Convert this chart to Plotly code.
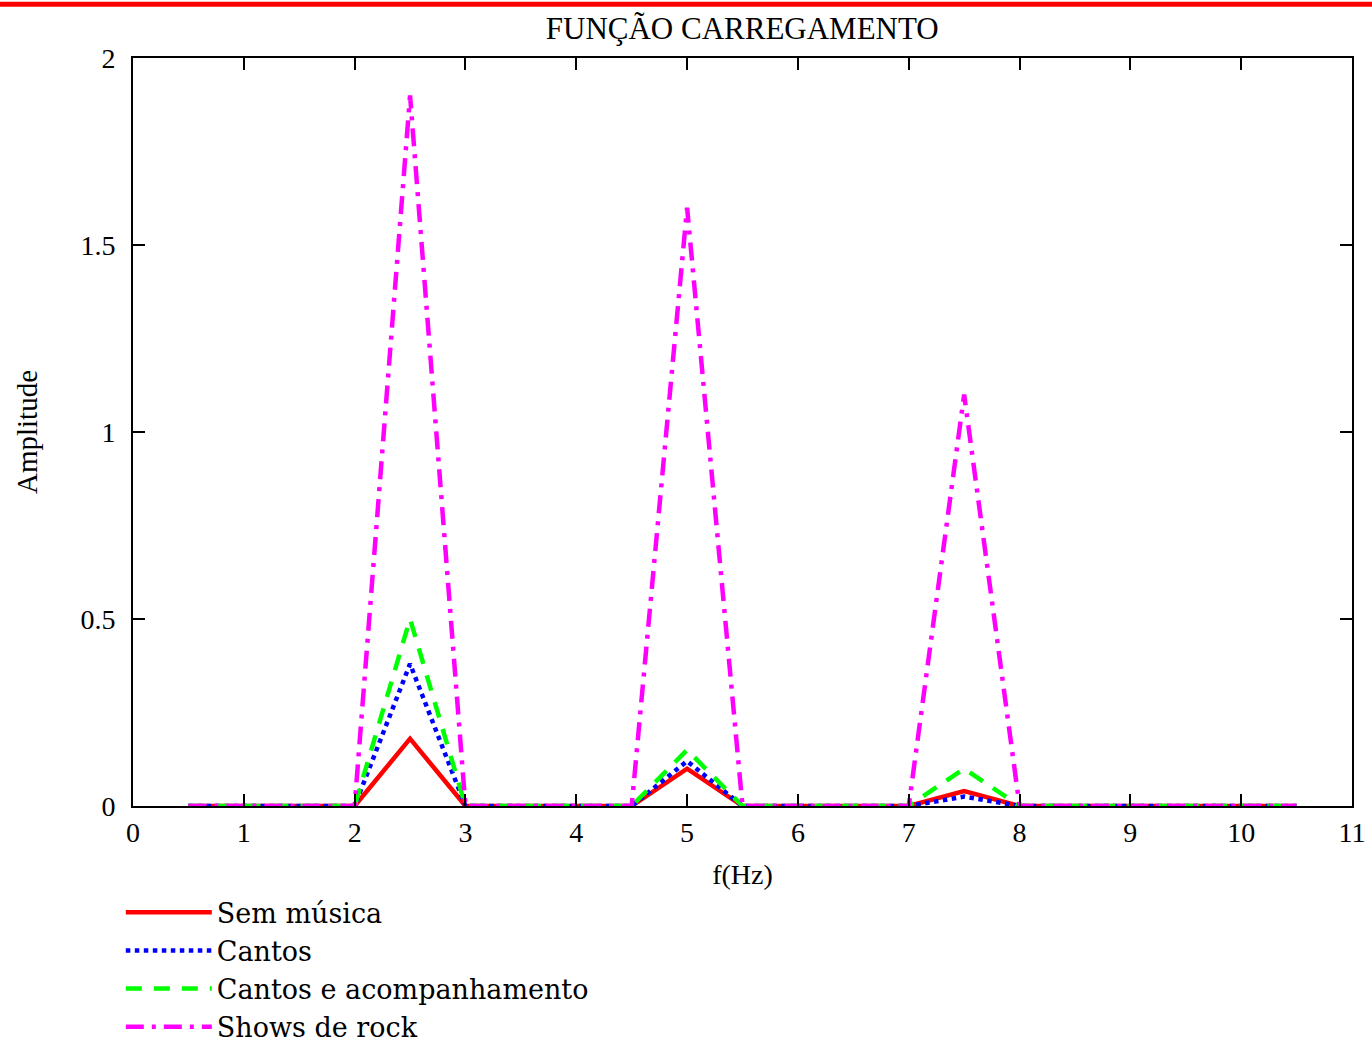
import plotly.graph_objects as go

# Frequency samples (Hz) shared by all load cases
freq = [0.5, 2.0, 2.5, 3.0, 4.5, 5.0, 5.5, 7.0, 7.5, 8.0, 10.5]

# Dynamic load amplitudes per activity type (harmonics at 2.5, 5 and 7.5 Hz)
sem_musica = [0, 0, 0.18, 0, 0, 0.10, 0, 0, 0.04, 0, 0]
cantos = [0, 0, 0.38, 0, 0, 0.12, 0, 0, 0.025, 0, 0]
cantos_acomp = [0, 0, 0.50, 0, 0, 0.15, 0, 0, 0.10, 0, 0]
shows_rock = [0, 0, 1.90, 0, 0, 1.60, 0, 0, 1.10, 0, 0]

x_ticks = list(range(0, 12))
y_ticks = [0, 0.5, 1, 1.5, 2]
y_tick_text = ["0", "0.5", "1", "1.5", "2"]

FONT = "Liberation Serif"
LEGEND_FONT = "DejaVu Serif"

series = [
    ("Sem música", sem_musica, "#ff0000", "solid"),
    ("Cantos", cantos, "#0000ff", "dot"),
    ("Cantos e acompanhamento", cantos_acomp, "#00ff00", "16px,12px"),
    ("Shows de rock", shows_rock, "#ff00ff", "18px,8px,4px,8px"),
]

fig = go.Figure()
for name, vals, color, dash in series:
    fig.add_trace(go.Scatter(
        x=freq, y=vals, name=name, mode="lines",
        line=dict(color=color, width=4.5, dash=dash),
    ))

axis_common = dict(
    showgrid=False, zeroline=False,
    showline=True, linecolor="black", linewidth=2, mirror="ticks",
    ticks="inside", ticklen=12, tickwidth=2, tickcolor="black",
    tickfont=dict(family=FONT, size=28, color="black"),
)

fig.update_xaxes(
    range=[0, 11], tickvals=x_ticks, ticklabelstandoff=0,
    title=dict(text="f(Hz)", font=dict(family=FONT, size=28, color="black"), standoff=18),
    **axis_common,
)
fig.update_yaxes(
    range=[0, 2], tickvals=y_ticks, ticklabelstandoff=10,
    ticktext=y_tick_text,
    title=dict(text="Amplitude", font=dict(family=FONT, size=29, color="black"), standoff=34),
    **axis_common,
)

# red rule across the top of the page
fig.add_shape(type="line", xref="paper", yref="paper",
              x0=-0.12, x1=1.02, y0=1.072, y1=1.072,
              line=dict(color="#ff0000", width=5))

fig.update_layout(
    width=1372, height=1042,
    margin=dict(l=133, r=20, t=58, b=236, autoexpand=False),
    paper_bgcolor="white", plot_bgcolor="white",
    title=dict(text="FUNÇÃO CARREGAMENTO", x=0.541, xanchor="center",
               y=0.973, yanchor="middle",
               font=dict(family=FONT, size=31, color="black")),
    legend=dict(x=-0.01, y=-0.11, xanchor="left", yanchor="top",
                font=dict(family=LEGEND_FONT, size=27, color="black"),
                itemwidth=86,
                bgcolor="rgba(0,0,0,0)", tracegroupgap=0),
    showlegend=True,
)

fig.write_html("out.html")
